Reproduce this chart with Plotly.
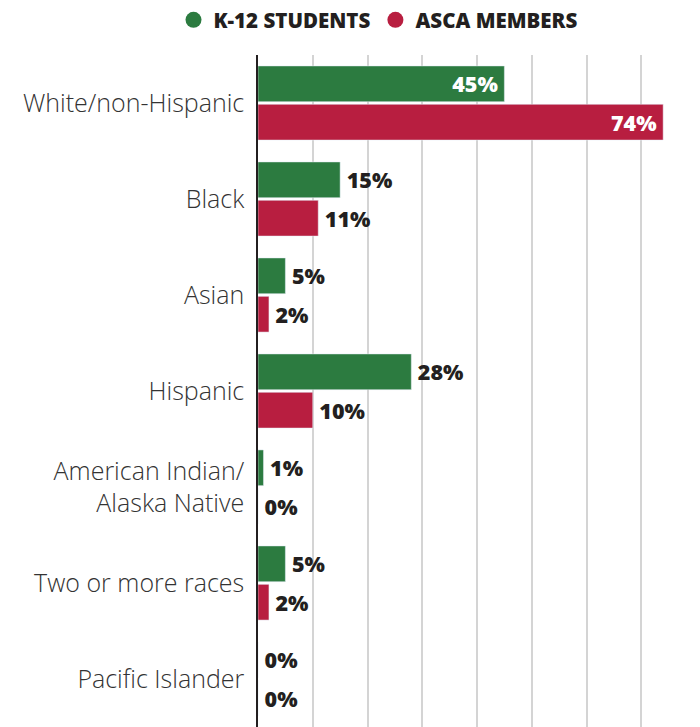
import plotly.graph_objects as go

categories = ["White/non-Hispanic", "Black", "Asian", "Hispanic",
              "American Indian/<br>Alaska Native", "Two or more races", "Pacific Islander"]
k12_students = [45, 15, 5, 28, 1, 5, 0]
asca_members = [74, 11, 2, 10, 0, 2, 0]
series_names = ["K-12 STUDENTS", "ASCA MEMBERS"]
tick_values = [0, 10, 20, 30, 40, 50, 60, 70, 80]

GREEN = "#2C7B40"
RED = "#B81E40"
CAT_FONT = "Open Sans"
LABEL_FONT = "Open Sans"

def text_pos(vals, threshold=40):
    return ["inside" if v >= threshold else "outside" for v in vals]

fig = go.Figure()
for name, vals, col in [(series_names[0], k12_students, GREEN),
                        (series_names[1], asca_members, RED)]:
    fig.add_trace(go.Bar(
        y=categories, x=vals, orientation="h", name=name,
        marker=dict(color=col),
        text=[f"\u2009{v}%" if v < 40 else f"{v}%\u2009" for v in vals],
        textposition=text_pos(vals),
        insidetextanchor="end",
        outsidetextfont=dict(family=LABEL_FONT, size=21.5, color="#231f20", weight=800),
        insidetextfont=dict(family=LABEL_FONT, size=21.5, color="white", weight=800),
        cliponaxis=False,
        constraintext="none",
        showlegend=False,
        hoverinfo="skip",
    ))

# legend entries with round markers
for name, col in [(series_names[0], GREEN), (series_names[1], RED)]:
    fig.add_trace(go.Scatter(
        x=[None], y=[None], mode="markers", name=name,
        marker=dict(color=col, size=22, symbol="circle"),
        showlegend=True, hoverinfo="skip",
    ))

fig.update_layout(
    width=700, height=727,
    margin=dict(l=258, r=4, t=55, b=0),
    paper_bgcolor="white", plot_bgcolor="white",
    barmode="group", bargap=0.2, bargroupgap=0.07,
    showlegend=True,
    legend=dict(orientation="h", x=0.54, xanchor="center", y=1.0, yanchor="top",
                yref="container", xref="container",
                font=dict(family=LABEL_FONT, size=20.5, color="#231f20", weight=800),
                itemsizing="trace", traceorder="normal", itemwidth=30,
                tracegroupgap=0),
    xaxis=dict(range=[0, 80], tickvals=tick_values, showticklabels=False,
               showgrid=True, gridcolor="#d4d4d4", gridwidth=1.5,
               zeroline=False, fixedrange=True),
    yaxis=dict(autorange="reversed", showline=True, linecolor="#231f20", linewidth=1.5,
               ticks="", ticklabelstandoff=7,
               tickfont=dict(family=CAT_FONT, size=25, color="#333333", weight=300),
               fixedrange=True),
)

fig.write_html("out.html", config={"displayModeBar": False},
               post_script="document.body.style.margin='0';document.body.style.overflow='hidden';")
